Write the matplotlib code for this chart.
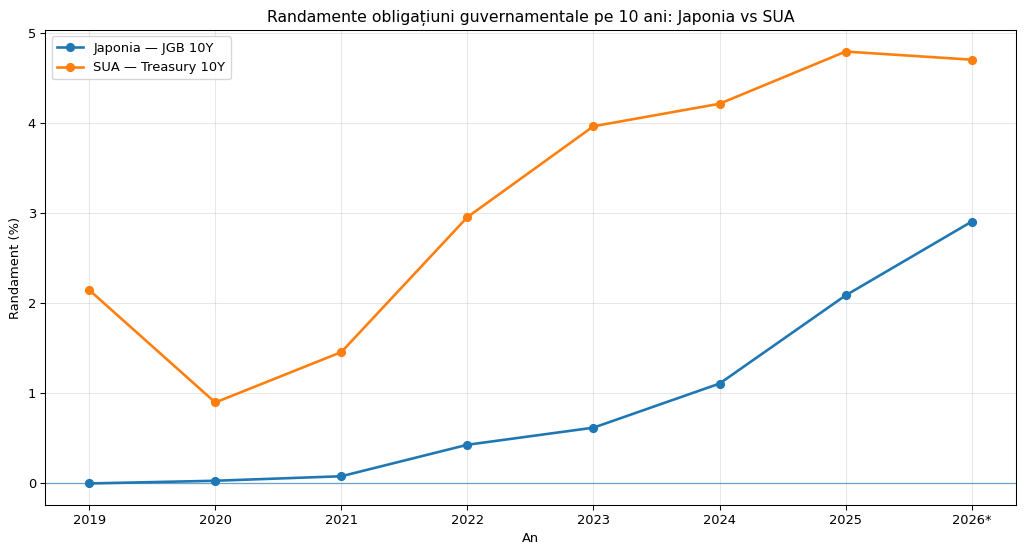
import matplotlib
matplotlib.use('Agg')
import matplotlib.pyplot as plt

years = ['2019', '2020', '2021', '2022', '2023', '2024', '2025', '2026*']
japan = [-0.01, 0.02, 0.07, 0.42, 0.61, 1.10, 2.08, 2.90]
usa = [2.14, 0.89, 1.45, 2.95, 3.96, 4.21, 4.79, 4.70]

fig, ax = plt.subplots(figsize=(1024 / 94, 555 / 94), dpi=94)
x = range(len(years))
ax.plot(x, japan, marker='o', linewidth=2, label='Japonia — JGB 10Y')
ax.plot(x, usa, marker='o', linewidth=2, label='SUA — Treasury 10Y')
ax.axhline(0, linewidth=1, alpha=0.6)
ax.set_xticks(list(x))
ax.set_xticklabels(years)
ax.set_title('Randamente obligațiuni guvernamentale pe 10 ani: Japonia vs SUA')
ax.set_xlabel('An')
ax.set_ylabel('Randament (%)')
ax.grid(True, alpha=0.3)
ax.legend(loc='upper left')
fig.subplots_adjust(left=0.044, right=0.992, top=0.946, bottom=0.090)
fig.savefig('out.png', dpi=94)
